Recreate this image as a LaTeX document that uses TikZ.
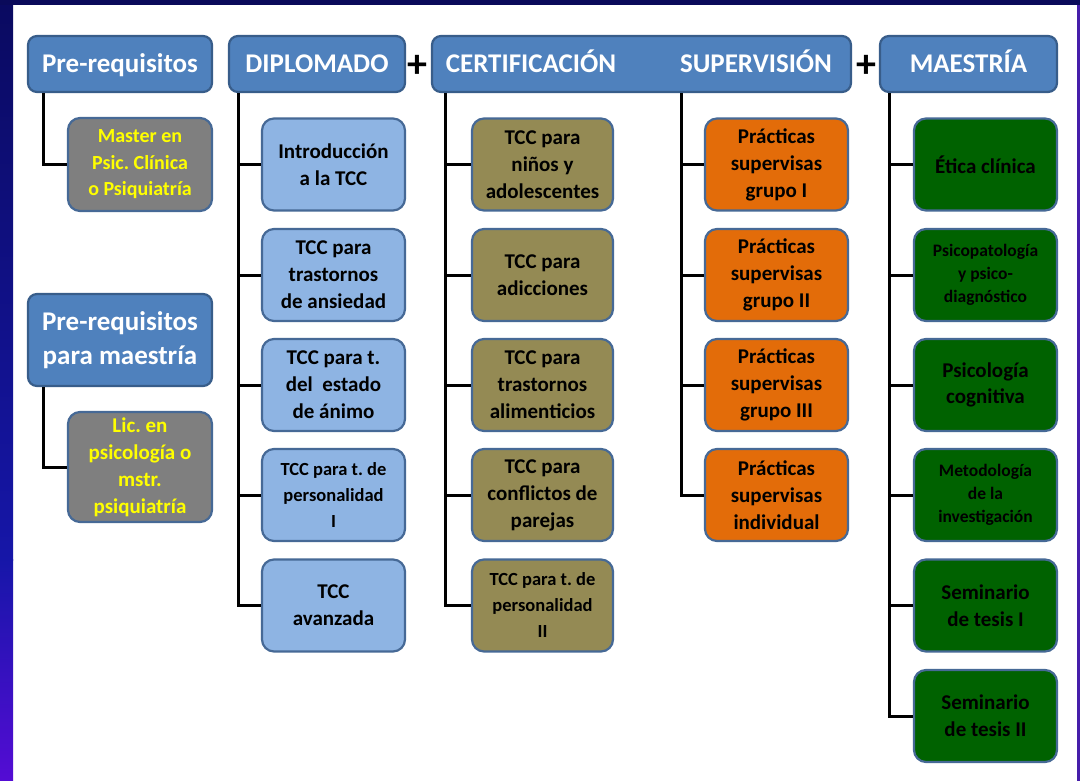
\documentclass[tikz,border=0pt]{standalone}
\usepackage{fontspec}
\setmainfont{Carlito}
\frenchspacing
\definecolor{hdrfill}{RGB}{79,129,189}
\definecolor{hdrbord}{RGB}{56,93,138}
\definecolor{kidbord}{RGB}{70,105,150}
\definecolor{grayfill}{RGB}{127,127,127}
\definecolor{yel}{RGB}{255,255,0}
\definecolor{lblue}{RGB}{142,180,227}
\definecolor{olive}{RGB}{148,138,84}
\definecolor{orng}{RGB}{227,108,9}
\definecolor{dgreen}{RGB}{0,98,0}
\definecolor{navytop}{RGB}{10,10,90}
\definecolor{stripA}{RGB}{10,10,96}
\definecolor{stripB}{RGB}{22,22,168}
\definecolor{stripC}{RGB}{84,12,212}
\definecolor{rightline}{RGB}{70,30,170}
\begin{document}
\begin{tikzpicture}[x=1pt,y=-1pt,
  hdrbox/.style={fill=hdrfill, draw=hdrbord, line width=2.2pt, rounded corners=9pt,
    text=white, inner sep=0pt, align=center,
    font=\fontsize{27}{34}\selectfont\bfseries},
  hdr/.style={hdrbox, text height=20pt, text depth=2pt},
  hdrtext/.style={text=white, inner sep=0pt, text height=20pt, text depth=2pt,
    font=\fontsize{27}{34}\selectfont\bfseries},
  kid/.style={draw=kidbord, line width=2.2pt, rounded corners=12pt,
    minimum width=143pt, minimum height=92pt, inner sep=0pt, align=center,
    font=\fontsize{21}{27}\selectfont\bfseries},
  small/.style={font=\fontsize{18.5}{26}\selectfont\bfseries},
  smaller/.style={font=\fontsize{17.5}{23}\selectfont\bfseries},
  gray/.style={kid, fill=grayfill, text=yel},
  blu/.style={kid, fill=lblue, text=black},
  oli/.style={kid, fill=olive, text=black},
  ora/.style={kid, fill=orng, text=black},
  grn/.style={kid, fill=dgreen, text=black},
  plus/.style={inner sep=0pt, font=\fontsize{40}{40}\selectfont\bfseries, text=black},
  conn/.style={draw=black, line width=3pt, line join=miter}
]
\useasboundingbox (0,0) rectangle (1080,781);
\fill[white] (0,0) rectangle (1080,781);
\shade[top color=stripA, bottom color=stripB] (0,0) rectangle (13,560);
\shade[top color=stripB, bottom color=stripC] (0,559) rectangle (13,781);
\fill[navytop] (0,0) rectangle (1080,5);
\fill[rightline] (1077,5) rectangle (1080,781);

% headers
\node[hdr, minimum width=184pt, minimum height=56pt] (pr) at (120,64) {Pre-requisitos};
\node[hdr, minimum width=176pt, minimum height=56pt] (dip) at (317,64) {DIPLOMADO};
\node[hdrbox, minimum width=419pt, minimum height=56pt] (cs) at (641.5,64) {};
\node[hdrtext] (cert) at (531,64) {CERTIFICACIÓN};
\node[hdrtext] (sup) at (756,64) {SUPERVISIÓN};
\node[hdr, minimum width=177pt, minimum height=56pt] (mae) at (968.5,64) {MAESTRÍA};
\node[hdrbox, minimum width=184pt, minimum height=92pt] (prm) at (120,340) {Pre-requisitos\\para maestría};
\node[plus] (p1) at (417.5,66.5) {+};
\node[plus] (p2) at (866,66.5) {+};

% prerequisites
\node[gray, minimum width=144pt, minimum height=93pt, font=\fontsize{20}{26.5}\selectfont\bfseries] (m1) at (140,164.5) {Master en\\Psic. Clínica\\o Psiquiatría};
\node[gray, minimum width=144pt, minimum height=110pt] (l1) at (140,467) {Lic. en\\psicología o\\mstr.\\psiquiatría};

% diplomado
\node[blu] (d1) at (333.5,164.5) {Introducción\\a la TCC};
\node[blu] (d2) at (333.5,275) {TCC para\\trastornos\\de ansiedad};
\node[blu] (d3) at (333.5,385) {TCC para t.\\del\ \ estado\\de ánimo};
\node[blu, small] (d4) at (333.5,495) {TCC para t. de\\personalidad\\I};
\node[blu] (d5) at (333.5,605.5) {TCC\\avanzada};

% certificacion
\node[oli, minimum width=141pt] (c1) at (542.5,164.5) {TCC para\\niños y\\adolescentes};
\node[oli, minimum width=141pt] (c2) at (542.5,275) {TCC para\\adicciones};
\node[oli, minimum width=141pt] (c3) at (542.5,385) {TCC para\\trastornos\\alimenticios};
\node[oli, minimum width=141pt] (c4) at (542.5,495) {TCC para\\conflictos de\\parejas};
\node[oli, minimum width=141pt, small] (c5) at (542.5,605.5) {TCC para t. de\\personalidad\\II};

% supervision
\node[ora] (s1) at (776.5,164.5) {Prácticas\\supervisas\\grupo I};
\node[ora] (s2) at (776.5,275) {Prácticas\\supervisas\\grupo II};
\node[ora] (s3) at (776.5,385) {Prácticas\\supervisas\\grupo III};
\node[ora] (s4) at (776.5,495) {Prácticas\\supervisas\\individual};

% maestria
\node[grn] (e1) at (985.5,164.5) {Ética clínica};
\node[grn, smaller] (e2) at (985.5,275) {Psicopatología\\y psico-\\diagnóstico};
\node[grn, font=\fontsize{21}{26}\selectfont\bfseries] (e3) at (985.5,385) {Psicología\\cognitiva};
\node[grn, smaller] (e4) at (985.5,495) {Metodología\\de la\\investigación};
\node[grn] (e5) at (985.5,605.5) {Seminario\\de tesis I};
\node[grn] (e6) at (985.5,716) {Seminario\\de tesis II};

% trunk tops
\coordinate (prT) at ([xshift=17pt]pr.south west);
\coordinate (prmT) at ([xshift=17pt]prm.south west);
\coordinate (dipT) at ([xshift=11pt]dip.south west);
\coordinate (certT) at ([xshift=15pt]cs.south west);
\coordinate (supT) at ([xshift=251pt]cs.south west);
\coordinate (maeT) at ([xshift=11pt]mae.south west);

% connectors
\draw[conn] (prT) |- (m1.west);
\draw[conn] (prmT) |- (l1.west);
\foreach \k in {d1,d2,d3,d4,d5} {\draw[conn] (dipT) |- (\k.west);}
\foreach \k in {c1,c2,c3,c4,c5} {\draw[conn] (certT) |- (\k.west);}
\foreach \k in {s1,s2,s3,s4} {\draw[conn] (supT) |- (\k.west);}
\foreach \k in {e1,e2,e3,e4,e5,e6} {\draw[conn] (maeT) |- (\k.west);}
\end{tikzpicture}
\end{document}
